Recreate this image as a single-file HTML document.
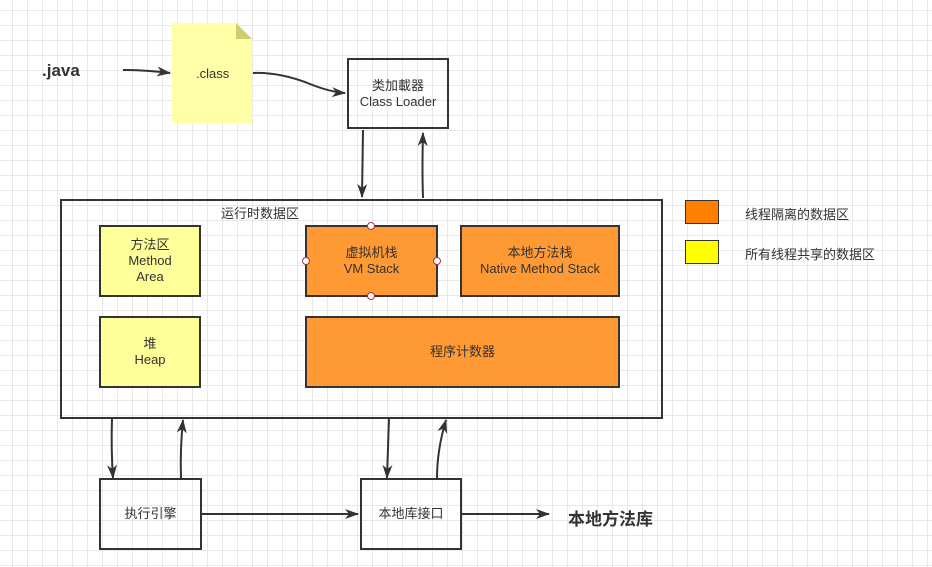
<!DOCTYPE html>
<html><head><meta charset="utf-8"><style>
body{margin:0;width:932px;height:567px;overflow:hidden;background:#fff;
background-image:linear-gradient(#e8e8e8 1px,transparent 1px),linear-gradient(90deg,#e8e8e8 1px,transparent 1px);
background-size:15px 15px;background-position:12px 10px;font-family:"Liberation Sans","Noto Sans CJK SC",sans-serif;}
.b{position:absolute;box-sizing:border-box;border:2px solid #333;display:flex;align-items:center;justify-content:center;text-align:center;font-size:13px;color:#333;line-height:16px}
.t{position:absolute;font-size:13px;color:#333}
</style></head><body>
<div class="t" style="left:42px;top:61px;font-size:17px;font-weight:bold">.java</div>
<svg width="932" height="567" style="position:absolute;left:0;top:0">
<polygon points="172,23 236,23 252,39 252,123 172,123" fill="#ffffa8"/>
<polygon points="236,23 252,39 236,39" fill="#d0cc70"/>
<defs><marker id="a" markerWidth="14" markerHeight="12" refX="13" refY="6" orient="auto" markerUnits="userSpaceOnUse"><path d="M0,1 L14,6 L0,11 L4,6z" fill="#333"/></marker></defs>
<g stroke="#333" stroke-width="2" fill="none" marker-end="url(#a)">
<path d="M123,70 Q145,70 170,73"/>
<path d="M253,73 Q280,72 310,84 Q330,92 345,93"/>
<path d="M363,130 L362,197"/>
<path d="M423,198 Q422,170 423,133"/>
<path d="M112,418 Q111,450 113,478"/>
<path d="M181,478 Q180,450 183,420"/>
<path d="M389,418 Q388,450 387,478"/>
<path d="M437,478 Q437,450 446,420"/>
<path d="M202,514 L358,514"/>
<path d="M462,514 L549,514"/>
</g>
</svg>
<div class="t" style="left:196px;top:66px">.class</div>
<div class="b" style="left:347px;top:58px;width:102px;height:71px">类加載器<br>Class Loader</div>
<div class="b" style="left:60px;top:199px;width:603px;height:220px"></div>
<div class="t" style="left:221px;top:203px">运行时数据区</div>
<div class="b" style="left:99px;top:225px;width:102px;height:72px;background:#ffff99">方法区<br>Method<br>Area</div>
<div class="b" style="left:99px;top:316px;width:102px;height:72px;background:#ffff99">堆<br>Heap</div>
<div class="b" style="left:305px;top:225px;width:133px;height:72px;background:#ff9933">虚拟机栈<br>VM Stack</div>
<div class="b" style="left:460px;top:225px;width:160px;height:72px;background:#ff9933">本地方法栈<br>Native Method Stack</div>
<div class="b" style="left:305px;top:316px;width:315px;height:72px;background:#ff9933">程序计数器</div>
<svg width="932" height="567" style="position:absolute;left:0;top:0">
<g fill="#fff" stroke="#a33" stroke-width="1">
<circle cx="371" cy="226" r="3.5"/><circle cx="371" cy="296" r="3.5"/><circle cx="306" cy="261" r="3.5"/><circle cx="437" cy="261" r="3.5"/></g></svg>
<div class="b" style="left:99px;top:478px;width:103px;height:72px">执行引擎</div>
<div class="b" style="left:360px;top:478px;width:102px;height:72px">本地库接口</div>
<div class="t" style="left:568px;top:505px;font-size:17px;font-weight:bold">本地方法库</div>
<div class="b" style="left:685px;top:200px;width:34px;height:24px;background:#ff8000;border-width:1px"></div>
<div class="b" style="left:685px;top:240px;width:34px;height:24px;background:#ffff00;border-width:1px"></div>
<div class="t" style="left:745px;top:204px">线程隔离的数据区</div>
<div class="t" style="left:745px;top:244px">所有线程共享的数据区</div>
</body></html>
